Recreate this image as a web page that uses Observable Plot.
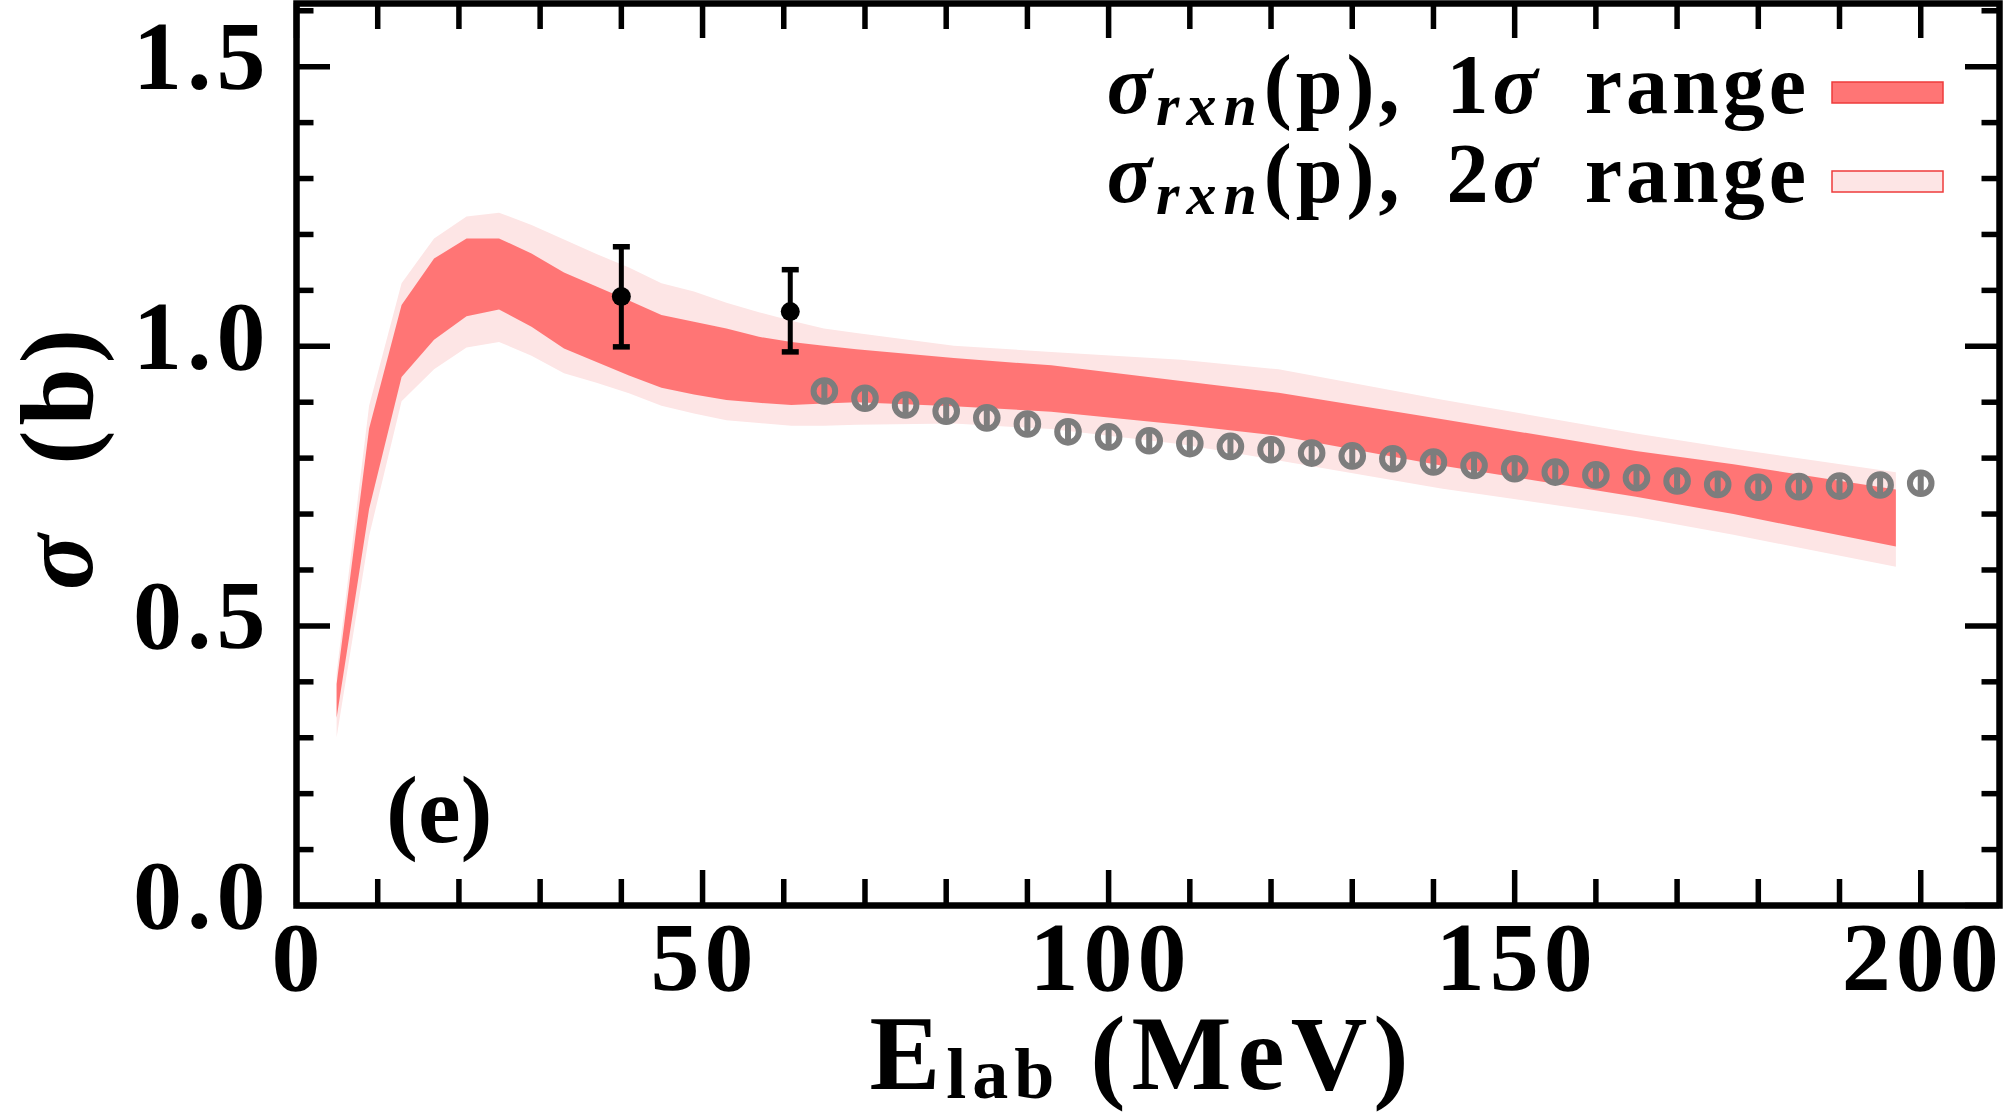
<!DOCTYPE html>
<html><head><meta charset="utf-8">
<script src="https://cdn.jsdelivr.net/npm/d3@7"></script>
<script src="https://cdn.jsdelivr.net/npm/@observablehq/plot@0.6"></script>
<style>
html,body{margin:0;padding:0;background:#fff;}
#chart{width:2003px;height:1113px;overflow:hidden;}
</style></head><body><div id="chart"></div>
<script>
// ---- data ----
const bandE  = [5, 9, 13, 17, 21, 25, 29, 33, 37, 41, 45, 49, 53, 57, 61, 65, 69, 81, 93, 109, 121, 141, 165, 177, 197];
const upper2 = [0.415, 0.893, 1.112, 1.192, 1.231, 1.238, 1.216, 1.190, 1.164, 1.140, 1.112, 1.097, 1.077, 1.060, 1.045, 1.031, 1.023, 1.000, 0.989, 0.975, 0.958, 0.904, 0.843, 0.816, 0.774];
const upper1 = [0.395, 0.852, 1.073, 1.156, 1.192, 1.192, 1.165, 1.131, 1.106, 1.081, 1.055, 1.043, 1.031, 1.016, 1.007, 1.000, 0.994, 0.978, 0.965, 0.937, 0.916, 0.869, 0.812, 0.788, 0.743];
const lower1 = [0.335, 0.708, 0.944, 1.011, 1.053, 1.065, 1.034, 0.995, 0.971, 0.947, 0.925, 0.913, 0.903, 0.898, 0.894, 0.897, 0.899, 0.892, 0.882, 0.859, 0.839, 0.786, 0.730, 0.699, 0.641];
const lower2 = [0.300, 0.660, 0.901, 0.958, 0.997, 1.007, 0.982, 0.951, 0.934, 0.915, 0.893, 0.879, 0.867, 0.862, 0.857, 0.857, 0.859, 0.861, 0.851, 0.824, 0.795, 0.745, 0.694, 0.662, 0.605];

const expE     = [40, 60.8];
const expSigma = [1.089, 1.062];
const expLow   = [0.999, 0.990];
const expHigh  = [1.178, 1.137];

const refE     = [65, 70, 75, 80, 85, 90, 95, 100, 105, 110, 115, 120, 125, 130, 135, 140, 145, 150, 155, 160, 165, 170, 175, 180, 185, 190, 195, 200];
const refSigma = [0.920, 0.907, 0.895, 0.884, 0.872, 0.861, 0.847, 0.838, 0.831, 0.826, 0.821, 0.815, 0.809, 0.804, 0.799, 0.793, 0.787, 0.781, 0.775, 0.770, 0.765, 0.759, 0.753, 0.748, 0.749, 0.750, 0.752, 0.755];

const xMajor = [0, 50, 100, 150, 200];
const xMinor = [10, 20, 30, 40, 60, 70, 80, 90, 110, 120, 130, 140, 160, 170, 180, 190];
const xTickLabels = ["0", "50", "100", "150", "200"];
const yMajor = [0, 0.5, 1.0, 1.5];
const yMinor = [0.1, 0.2, 0.3, 0.4, 0.6, 0.7, 0.8, 0.9, 1.1, 1.2, 1.3, 1.4, 1.6];
const yTickLabels = ["0.0", "0.5", "1.0", "1.5"];

const legendLabels = ["1", "2"];
const legendColors = ["#ff7575", "#fde5e5"];

// ---- tables ----
const bands = bandE.map((e, i) => ({E: e, u2: upper2[i], u1: upper1[i], l1: lower1[i], l2: lower2[i]}));
const exp = expE.map((e, i) => ({E: e, s: expSigma[i], lo: expLow[i], hi: expHigh[i]}));
const caps = exp.flatMap(d => [{E: d.E, s: d.lo}, {E: d.E, s: d.hi}]);
const ref = refE.map((e, i) => ({E: e, s: refSigma[i]}));

// ---- layout ----
const W = 2003, H = 1113;
const mL = 296, mR = 4, mT = 3, mB = 208;
const fw = W - mL - mR, fh = H - mT - mB;
const serif = "'Liberation Serif', 'DejaVu Serif', serif";

const ringSymbol = {draw(ctx, size) {
  const r = Math.sqrt(size / Math.PI);
  ctx.moveTo(r, 0); ctx.arc(0, 0, r, 0, 2 * Math.PI);
  ctx.moveTo(0, -r + 1); ctx.lineTo(0, r - 1);
}};
const capSymbol = {draw(ctx, size) {
  const r = Math.sqrt(size / Math.PI);
  ctx.moveTo(-r, 0); ctx.lineTo(r, 0);
}};

const tickW = 5.5;
const plot = Plot.plot({
  width: W, height: H,
  marginLeft: mL, marginRight: mR, marginTop: mT, marginBottom: mB,
  x: {domain: [0, 209.7]},
  y: {domain: [0, 1.613]},
  style: {fontFamily: serif, fontWeight: "bold", background: "white", color: "black", overflow: "visible"},
  marks: [
    Plot.areaY(bands, {x: "E", y1: "l2", y2: "u2", fill: legendColors[1]}),
    Plot.areaY(bands, {x: "E", y1: "l1", y2: "u1", fill: legendColors[0]}),
    Plot.dot(ref, {x: "E", y: "s", symbol: ringSymbol, r: 10.8, stroke: "#7d7d7d", strokeWidth: 6, fill: "none"}),
    Plot.ruleX(exp, {x: "E", y1: "lo", y2: "hi", stroke: "black", strokeWidth: 5}),
    Plot.dot(caps, {x: "E", y: "s", symbol: capSymbol, r: 8.5, stroke: "black", strokeWidth: 5.5}),
    Plot.dot(exp, {x: "E", y: "s", r: 9.5, fill: "black"}),
    // inward ticks on four sides
    Plot.ruleX(xMajor, {x: d => d, insetTop: fh - 35, stroke: "black", strokeWidth: tickW}),
    Plot.ruleX(xMinor, {x: d => d, insetTop: fh - 26, stroke: "black", strokeWidth: tickW}),
    Plot.ruleX(xMajor, {x: d => d, insetBottom: fh - 35, stroke: "black", strokeWidth: tickW}),
    Plot.ruleX(xMinor, {x: d => d, insetBottom: fh - 26, stroke: "black", strokeWidth: tickW}),
    Plot.ruleY(yMajor, {y: d => d, insetRight: fw - 34, stroke: "black", strokeWidth: tickW}),
    Plot.ruleY(yMinor, {y: d => d, insetRight: fw - 17.5, stroke: "black", strokeWidth: tickW}),
    Plot.ruleY(yMajor, {y: d => d, insetLeft: fw - 34, stroke: "black", strokeWidth: tickW}),
    Plot.ruleY(yMinor, {y: d => d, insetLeft: fw - 17.5, stroke: "black", strokeWidth: tickW}),
    Plot.frame({stroke: "black", strokeWidth: 6.5}),
    Plot.axisX({anchor: "bottom", ticks: xMajor, tickSize: 0, tickPadding: 15, label: null, dx: 2,
      tickFormat: d => xTickLabels[xMajor.indexOf(d)], fontSize: 98, fontWeight: "bold", fontFamily: serif}),
    Plot.axisY({anchor: "left", ticks: yMajor, tickSize: 0, tickPadding: 26, label: null, dy: -9,
      tickFormat: d => yTickLabels[yMajor.indexOf(d)], fontSize: 98, fontWeight: "bold", fontFamily: serif})
  ]
});
document.getElementById("chart").appendChild(plot);

// widen tick labels a little (Computer-Modern-like width)
d3.select(plot).selectAll("g[aria-label='x-axis tick label'] text, g[aria-label='y-axis tick label'] text")
  .style("letter-spacing", "5px");

// ---- text annotations ----
const svg = d3.select(plot);
const g = svg.append("g").attr("font-family", serif).attr("font-weight", "bold").attr("fill", "black");

// y-axis title
const yt = g.append("text").attr("transform", "translate(92,457) rotate(-90)")
  .attr("text-anchor", "middle").attr("font-size", 103)
  .style("letter-spacing", "5px").style("word-spacing", "34px");
yt.append("tspan").attr("font-style", "italic").text("σ");
yt.append("tspan").text(" (b)");

// x-axis title
const xt = g.append("text").attr("x", 1142).attr("y", 1089).attr("text-anchor", "middle")
  .attr("font-size", 106).style("letter-spacing", "6px");
xt.append("tspan").text("E");
xt.append("tspan").attr("font-size", 72).attr("dy", 9).text("lab");
xt.append("tspan").attr("dy", -9).attr("dx", 30).text("(MeV)");

// panel tag
g.append("text").attr("x", 386).attr("y", 842).attr("text-anchor", "start").attr("font-size", 96).text("(e)");

// legend
legendLabels.forEach((n, i) => {
  const y = 113 + i * 89;
  const t = g.append("text").attr("x", 1810).attr("y", y).attr("text-anchor", "end")
    .attr("font-size", 84).style("letter-spacing", "4px").style("word-spacing", "18px");
  t.append("tspan").attr("font-style", "italic").text("σ");
  t.append("tspan").attr("font-style", "italic").attr("font-size", 60).attr("dy", 12)
    .style("letter-spacing", "7px").text("rxn");
  t.append("tspan").attr("dy", -12).text("(p), " + n);
  t.append("tspan").attr("font-style", "italic").text("σ");
  t.append("tspan").text(" range");
  g.append("rect").attr("x", 1832).attr("y", 82 + i * 89).attr("width", 111).attr("height", 21)
    .attr("fill", legendColors[i]).attr("stroke", "#ee3b3b").attr("stroke-width", 1.5);
});
</script></body></html>
